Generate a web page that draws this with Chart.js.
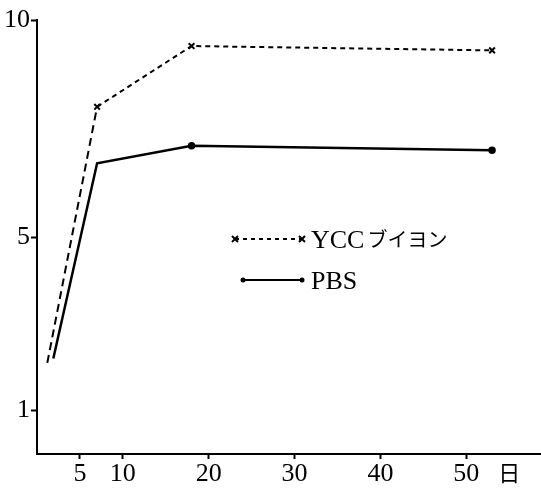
<!DOCTYPE html>
<html>
<head>
<meta charset="utf-8">
<script src="https://cdn.jsdelivr.net/npm/chart.js@4.4.1/dist/chart.umd.min.js"></script>
<style>
  html, body { margin: 0; padding: 0; background: #fff; }
  #wrap { position: relative; width: 541px; height: 493px; }
</style>
</head>
<body>
<div id="wrap"><canvas id="myChart" width="541" height="493"></canvas></div>
<script>
// data (days vs value)
const yccDays = [1.2, 7, 18, 53];
const yccVals = [2.1, 8.0, 9.4, 9.3];
const pbsDays = [1.9, 7, 18, 53];
const pbsVals = [2.2, 6.7, 7.1, 7.0];
const xTicks = [5, 10, 20, 30, 40, 50, 55];
const yTicks = [1, 5, 10];
const seriesNames = [['YCC', 'ブイヨン'], ['PBS', '']];
const unitLabel = '日';

const SERIF = "'Liberation Serif', 'Times New Roman', 'DejaVu Serif', serif";
const JP = "'Noto Sans CJK JP', sans-serif";

const toPoints = (xs, ys) => xs.map((x, i) => ({ x: x, y: ys[i] }));

// legend drawn inside the plot, line with markers on both ends
const insideLegend = {
  id: 'insideLegend',
  afterDraw(chart) {
    const c = chart.ctx;
    const rows = [
      { y: 239, x0: 235, x1: 302, dash: [4, 4], marker: 'x' },
      { y: 280, x0: 243, x1: 302, dash: [], marker: 'dot' },
    ];
    c.save();
    rows.forEach((r, i) => {
      c.strokeStyle = '#000';
      c.lineWidth = 2;
      c.setLineDash(r.dash);
      c.beginPath();
      c.moveTo(r.x0, r.y);
      c.lineTo(r.x1, r.y);
      c.stroke();
      c.setLineDash([]);
      [r.x0, r.x1].forEach(px => {
        if (r.marker === 'x') {
          c.beginPath();
          c.moveTo(px - 3, r.y - 3); c.lineTo(px + 3, r.y + 3);
          c.moveTo(px + 3, r.y - 3); c.lineTo(px - 3, r.y + 3);
          c.stroke();
        } else {
          c.beginPath();
          c.arc(px, r.y, 2.5, 0, Math.PI * 2);
          c.fillStyle = '#000';
          c.fill();
        }
      });
      c.fillStyle = '#000';
      c.textBaseline = 'alphabetic';
      c.font = "26px " + SERIF;
      c.fillText(seriesNames[i][0], 311, r.y + 9);
      const w = c.measureText(seriesNames[i][0]).width;
      c.font = "20px " + JP;
      c.fillText(seriesNames[i][1], 311 + w + 3, r.y + 8);
    });
    c.restore();
  }
};

function draw() {
  new Chart(document.getElementById('myChart'), {
    type: 'line',
    plugins: [insideLegend],
    data: {
      datasets: [
        {
          label: seriesNames[0].join(' '),
          data: toPoints(yccDays, yccVals),
          borderColor: '#000',
          borderWidth: 2,
          borderDash: [5, 4],
          // steep first rise uses longer dashes, like the print
          segment: { borderDash: (ctx) => ctx.p0DataIndex === 0 ? [8, 5] : [5, 4] },
          pointStyle: 'crossRot',
          pointRadius: [0, 4, 4, 4],
          pointBorderWidth: 2,
          pointBorderColor: '#000',
          tension: 0,
          fill: false,
        },
        {
          label: seriesNames[1][0],
          data: toPoints(pbsDays, pbsVals),
          borderColor: '#000',
          borderWidth: 2.5,
          pointStyle: 'circle',
          pointRadius: [0, 0, 2.5, 2.5],
          pointBackgroundColor: '#000',
          pointBorderColor: '#000',
          tension: 0,
          fill: false,
        },
      ],
    },
    options: {
      responsive: false,
      animation: false,
      layout: { autoPadding: false, padding: { top: 20, right: 0, left: 0, bottom: 0 } },
      plugins: {
        legend: { display: false },
        tooltip: { enabled: false },
      },
      scales: {
        x: {
          type: 'linear',
          min: 0,
          max: 58.7,
          afterBuildTicks: (scale) => { scale.ticks = xTicks.map(v => ({ value: v })); },
          afterFit: (scale) => {
            scale.height = 39;
            scale.paddingLeft = 0;
            scale.paddingRight = 0;
          },
          ticks: {
            color: '#000',
            font: (ctx) => ({ family: (ctx.tick && ctx.tick.value === 55) ? JP : SERIF, size: (ctx.tick && ctx.tick.value === 55) ? 22 : 26 }),
            padding: 0,
            maxRotation: 0,
            autoSkip: false,
            callback: (v) => v === 55 ? unitLabel : String(v),
          },
          grid: {
            drawOnChartArea: false,
            drawTicks: true,
            tickLength: 5,
            tickWidth: 2,
            tickColor: (ctx) => (ctx.tick && ctx.tick.value === 55) ? 'rgba(0,0,0,0)' : '#000',
          },
          border: { display: true, color: '#000', width: 2 },
        },
        y: {
          type: 'linear',
          min: 0,
          max: 10,
          afterBuildTicks: (scale) => { scale.ticks = yTicks.map(v => ({ value: v })); },
          afterFit: (scale) => {
            scale.width = 37;
            scale.paddingTop = 0;
            scale.paddingBottom = 0;
          },
          ticks: {
            color: '#000',
            font: { family: SERIF, size: 26 },
            padding: 1,
          },
          grid: {
            drawOnChartArea: false,
            drawTicks: true,
            tickLength: 6,
            tickWidth: 2,
            tickColor: '#000',
          },
          border: { display: true, color: '#000', width: 2 },
        },
      },
    },
  });
}

Promise.all([
  document.fonts.load("26px 'Liberation Serif'"),
  document.fonts.load("20px 'Noto Sans CJK JP'", 'ブイヨン日'),
]).then(draw, draw);
</script>
</body>
</html>
